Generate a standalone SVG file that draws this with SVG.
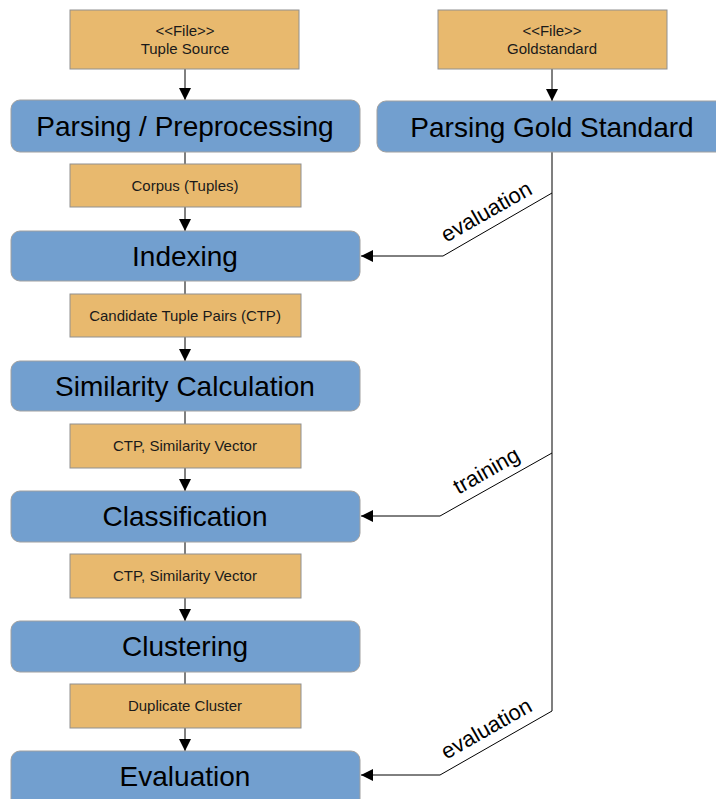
<svg xmlns="http://www.w3.org/2000/svg" width="716" height="799" viewBox="0 0 716 799">
<style>
.blue{fill:#729fcf;stroke:#a0a0a0;stroke-width:1}
.or{fill:#e8b96e;stroke:#909090;stroke-width:1}
.big{font-family:"Liberation Sans",Arial,sans-serif;font-size:28px;fill:#000;text-anchor:middle}
.sm{font-family:"Liberation Sans",Arial,sans-serif;font-size:15px;fill:#1a1a1a;text-anchor:middle}
.lbl{font-family:"Liberation Sans",Arial,sans-serif;font-size:22px;fill:#000;text-anchor:middle}
.ln{fill:none;stroke:#000;stroke-width:1}
.gl{fill:none;stroke:#555;stroke-width:1.5}
</style>
<defs>
<marker id="ah" viewBox="0 0 12 12" refX="12" refY="6" markerWidth="12" markerHeight="12" markerUnits="userSpaceOnUse" orient="auto">
<path d="M0,0 L12,6 L0,12 z" fill="#000"/>
</marker>
</defs>
<rect width="716" height="799" fill="#fff"/>
<g id="connectors">
<line class="ln" x1="185" y1="69" x2="185" y2="100" marker-end="url(#ah)"/>
<line class="gl" x1="185" y1="152" x2="185" y2="164"/>
<line class="ln" x1="185" y1="207" x2="185" y2="231" marker-end="url(#ah)"/>
<line class="gl" x1="185" y1="281" x2="185" y2="294"/>
<line class="ln" x1="185" y1="337" x2="185" y2="361" marker-end="url(#ah)"/>
<line class="gl" x1="185" y1="411" x2="185" y2="424"/>
<line class="ln" x1="185" y1="468" x2="185" y2="491" marker-end="url(#ah)"/>
<line class="gl" x1="185" y1="542" x2="185" y2="554"/>
<line class="ln" x1="185" y1="598" x2="185" y2="621" marker-end="url(#ah)"/>
<line class="gl" x1="185" y1="672" x2="185" y2="684"/>
<line class="ln" x1="185" y1="728" x2="185" y2="751" marker-end="url(#ah)"/>
<line class="ln" x1="552" y1="69" x2="552" y2="101" marker-end="url(#ah)"/>
<line class="gl" x1="552" y1="152" x2="552" y2="711"/>
<polyline class="ln" points="552,193 443,256 361,256" marker-end="url(#ah)"/>
<polyline class="ln" points="552,453 440,516 361,516" marker-end="url(#ah)"/>
<polyline class="ln" points="552,711 440,775 361,775" marker-end="url(#ah)"/>
<text class="lbl" transform="translate(490,218) rotate(-29.5)">evaluation</text>
<text class="lbl" transform="translate(490,477) rotate(-29.5)">training</text>
<text class="lbl" transform="translate(490,735) rotate(-29.5)">evaluation</text>
</g>
<g id="file-tuple-source">
<rect class="or" x="70" y="10" width="229" height="59"/>
<text class="sm" x="185" y="36">&lt;&lt;File&gt;&gt;</text>
<text class="sm" x="185" y="54">Tuple Source</text>
</g>
<g id="file-goldstandard">
<rect class="or" x="438" y="10" width="229" height="59"/>
<text class="sm" x="552" y="36">&lt;&lt;File&gt;&gt;</text>
<text class="sm" x="552" y="54">Goldstandard</text>
</g>
<g id="parsing">
<rect class="blue" x="11" y="100" width="349" height="52" rx="9"/>
<text class="big" x="185" y="136">Parsing / Preprocessing</text>
</g>
<g id="parsing-gold">
<rect class="blue" x="377" y="101" width="350" height="51" rx="9"/>
<text class="big" x="552" y="137">Parsing Gold Standard</text>
</g>
<g id="corpus">
<rect class="or" x="70" y="164" width="231" height="43"/>
<text class="sm" x="185" y="191">Corpus (Tuples)</text>
</g>
<g id="indexing">
<rect class="blue" x="11" y="231" width="349" height="50" rx="9"/>
<text class="big" x="185" y="266">Indexing</text>
</g>
<g id="ctp">
<rect class="or" x="70" y="294" width="231" height="43"/>
<text class="sm" x="185" y="321">Candidate Tuple Pairs (CTP)</text>
</g>
<g id="similarity">
<rect class="blue" x="11" y="361" width="349" height="50" rx="9"/>
<text class="big" x="185" y="396">Similarity Calculation</text>
</g>
<g id="ctp-sim-1">
<rect class="or" x="70" y="424" width="231" height="44"/>
<text class="sm" x="185" y="451">CTP, Similarity Vector</text>
</g>
<g id="classification">
<rect class="blue" x="11" y="491" width="349" height="51" rx="9"/>
<text class="big" x="185" y="526">Classification</text>
</g>
<g id="ctp-sim-2">
<rect class="or" x="70" y="554" width="231" height="44"/>
<text class="sm" x="185" y="581">CTP, Similarity Vector</text>
</g>
<g id="clustering">
<rect class="blue" x="11" y="621" width="349" height="51" rx="9"/>
<text class="big" x="185" y="656">Clustering</text>
</g>
<g id="duplicate-cluster">
<rect class="or" x="70" y="684" width="231" height="44"/>
<text class="sm" x="185" y="711">Duplicate Cluster</text>
</g>
<g id="evaluation">
<rect class="blue" x="11" y="751" width="349" height="60" rx="9"/>
<text class="big" x="185" y="786">Evaluation</text>
</g>
</svg>
